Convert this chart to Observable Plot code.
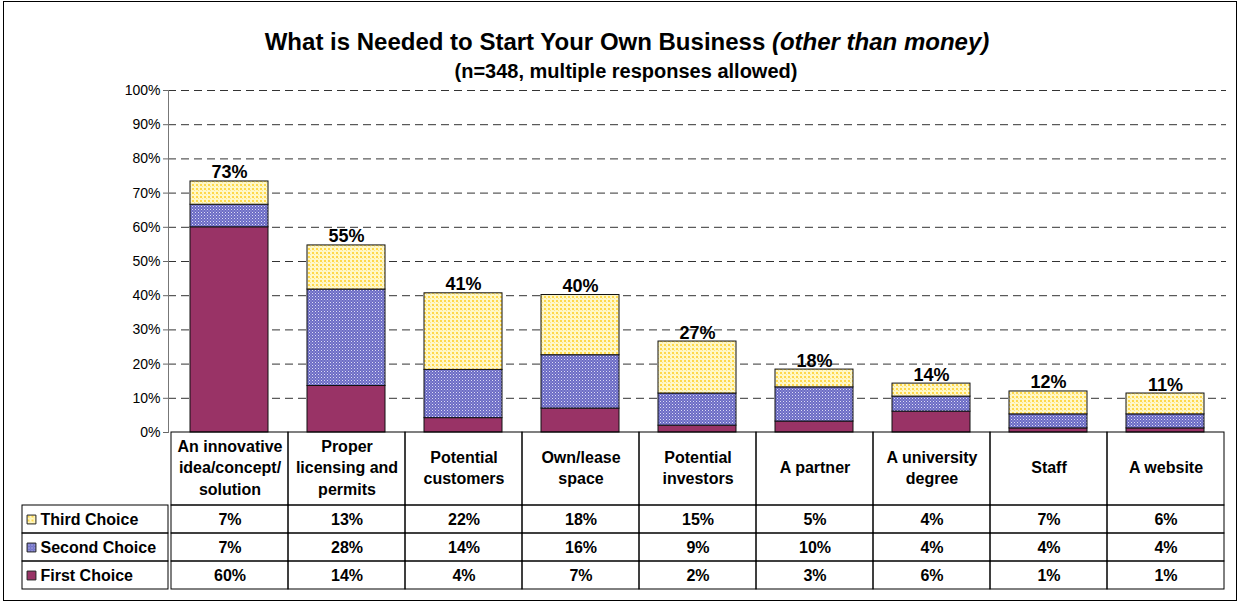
<!DOCTYPE html>
<html>
<head>
<meta charset="utf-8">
<script src="https://cdn.jsdelivr.net/npm/d3@7"></script>
<script src="https://cdn.jsdelivr.net/npm/@observablehq/plot@0.6"></script>
<style>
  html, body { margin: 0; padding: 0; background: #fff; }
  body { width: 1241px; height: 604px; position: relative; overflow: hidden;
         font-family: "Liberation Sans", Arial, sans-serif; }
  #frame { position: absolute; left: 3px; top: 1px; width: 1234px; height: 600px; border: 1px solid #000; box-sizing: border-box; }
  .abs { position: absolute; }
  svg { overflow: visible; }
  #title { position: absolute; left: 0; width: 1254px; top: 28px; line-height: 28px; text-align: center; font-weight: bold; font-size: 24px; color: #000; }
  #subtitle { position: absolute; left: 0; width: 1252px; top: 59px; line-height: 24px; text-align: center; font-weight: bold; font-size: 20px; color: #000; }
</style>
</head>
<body>
<svg width="0" height="0" style="position:absolute">
  <defs>
    <pattern id="pSecond" width="3" height="3" patternUnits="userSpaceOnUse">
      <rect width="3" height="3" fill="#6b6bc4"/>
      <rect x="0" y="0" width="1" height="1" fill="#dcdcf6"/>
      <rect x="1.5" y="1.5" width="1" height="1" fill="#b4b4ea"/>
    </pattern>
    <pattern id="pThird" width="4" height="4" patternUnits="userSpaceOnUse">
      <rect width="4" height="4" fill="#fff8c8"/>
      <rect x="0" y="0" width="2" height="2" fill="#ffd84a"/>
      <rect x="2" y="2" width="1" height="1" fill="#ffe680"/>
    </pattern>
  </defs>
</svg>
<div id="frame"></div>
<div id="title">What is Needed to Start Your Own Business <i>(other than money)</i></div>
<div id="subtitle">(n=348, multiple responses allowed)</div>
<div id="main" class="abs" style="left:0;top:80px"></div>
<div id="header" class="abs" style="left:0;top:432px"></div>
<div id="body" class="abs" style="left:0;top:505px"></div>
<div id="legend" class="abs" style="left:0;top:505px"></div>
<script>
const categories = ["An innovative idea/concept/ solution", "Proper licensing and permits", "Potential customers", "Own/lease space", "Potential investors", "A partner", "A university degree", "Staff", "A website"];
const categoryLabels = ["An innovative\nidea/concept/\nsolution", "Proper\nlicensing and\npermits", "Potential\ncustomers", "Own/lease\nspace", "Potential\ninvestors", "A partner", "A university\ndegree", "Staff", "A website"];
const seriesNames = ["First Choice", "Second Choice", "Third Choice"];
const firstChoice  = [60.0, 13.6, 4.2, 7.0, 2.0, 3.2, 6.1, 1.2, 1.2];
const secondChoice = [6.6, 28.2, 14.1, 15.6, 9.4, 10.0, 4.4, 4.1, 4.1];
const thirdChoice  = [6.8, 12.9, 22.4, 17.6, 15.2, 5.2, 3.8, 6.7, 6.1];
const yTicks = [0, 10, 20, 30, 40, 50, 60, 70, 80, 90, 100];

const seriesValues = [firstChoice, secondChoice, thirdChoice];
const fills = ["#993366", "url(#pSecond)", "url(#pThird)"];
const FONT = '"Liberation Sans", Arial, sans-serif';
const pct = v => `${Math.round(v)}%`;

const long = [];
seriesNames.forEach((s, si) => categories.forEach((c, ci) => long.push({category: c, series: s, value: seriesValues[si][ci]})));
const totals = categories.map((c, i) => ({category: c, total: firstChoice[i] + secondChoice[i] + thirdChoice[i]}));

const W = 1241, L = 168, R = 1241 - 1226;
const xScale = {domain: categories, paddingInner: 0.33, paddingOuter: 0.165};

const main = Plot.plot({
  width: W, height: 355,
  marginLeft: L, marginRight: R, marginTop: 10, marginBottom: 3,
  style: {fontFamily: FONT, color: "#000", background: "transparent"},
  x: {...xScale, axis: null},
  y: {domain: [0, 100], axis: null},
  color: {domain: seriesNames, range: fills},
  marks: [
    Plot.gridY(yTicks.filter(d => d > 0), {stroke: "#333", strokeOpacity: 1, strokeDasharray: "8,5", strokeWidth: 1}),
    Plot.axisY({ticks: yTicks, tickFormat: d => d + "%", tickSize: 5, tickPadding: 3, fontSize: 14, stroke: "#666"}),
    Plot.frame({anchor: "left", stroke: "#777"}),
    Plot.barY(long, {x: "category", y: "value", fill: "series", stroke: "#111", strokeWidth: 1, order: seriesNames}),
    Plot.text(totals, {x: "category", y: "total", text: d => pct(d.total), lineAnchor: "bottom", dy: -3, fontSize: 18, fontWeight: "bold", fill: "#000"})
  ]
});
document.getElementById("main").append(main);

const header = Plot.plot({
  width: W, height: 73,
  marginLeft: L, marginRight: R, marginTop: 0, marginBottom: 0,
  style: {fontFamily: FONT, color: "#000", background: "transparent"},
  x: {domain: categories, padding: 0, axis: null},
  marks: [
    Plot.cell(categories, {x: d => d, fill: "none", stroke: "#000", strokeWidth: 1}),
    Plot.text(categories, {x: d => d, text: (d, i) => categoryLabels[i], frameAnchor: "middle", lineAnchor: "middle", dy: -2.5, lineHeight: 1.34, fontSize: 16, fontWeight: "bold", fill: "#000"})
  ]
});
document.getElementById("header").append(header);

const rowsOrder = ["Third Choice", "Second Choice", "First Choice"];
const body = Plot.plot({
  width: W, height: 84,
  marginLeft: L, marginRight: R, marginTop: 0, marginBottom: 0,
  style: {fontFamily: FONT, color: "#000", background: "transparent"},
  x: {domain: categories, padding: 0, axis: null},
  y: {domain: rowsOrder, padding: 0, axis: null},
  marks: [
    Plot.cell(long, {x: "category", y: "series", fill: "none", stroke: "#000", strokeWidth: 1}),
    Plot.text(long, {x: "category", y: "series", text: d => pct(d.value), fontSize: 16, fontWeight: "bold", fill: "#000"})
  ]
});
document.getElementById("body").append(body);

const legend = Plot.plot({
  width: L, height: 84,
  marginLeft: 22, marginRight: 0, marginTop: 0, marginBottom: 0,
  style: {fontFamily: FONT, color: "#000", background: "transparent"},
  x: {axis: null},
  y: {domain: rowsOrder, padding: 0, axis: null},
  color: {domain: seriesNames, range: fills},
  marks: [
    Plot.cell(rowsOrder, {y: d => d, fill: "none", stroke: "#000", strokeWidth: 1}),
    Plot.dot(rowsOrder, {y: d => d, frameAnchor: "left", dx: 9, symbol: "square", r: 5, fill: d => d, stroke: "#222", strokeWidth: 1}),
    Plot.text(rowsOrder, {y: d => d, text: d => d, frameAnchor: "left", textAnchor: "start", dx: 18, fontSize: 16, fontWeight: "bold", fill: "#000"})
  ]
});
document.getElementById("legend").append(legend);
</script>
</body>
</html>
